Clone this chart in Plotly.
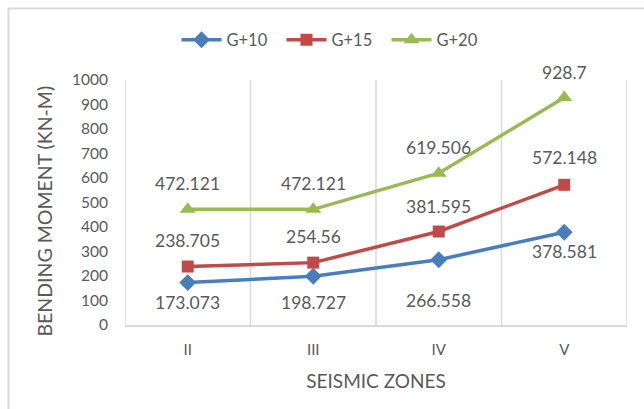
import plotly.graph_objects as go

# Seismic zones and bending moments (kN-m) per building height
zones = ["II", "III", "IV", "V"]
g10 = [173.073, 198.727, 266.558, 378.581]
g15 = [238.705, 254.56, 381.595, 572.148]
g20 = [472.121, 472.121, 619.506, 928.7]
y_ticks = [0, 100, 200, 300, 400, 500, 600, 700, 800, 900, 1000]

FONT = "Lato"
GREY = "#595959"

# Pixel layout of the plot area
W, H = 644, 409
L, R, T, B = 125, 17, 80, 84
pw, ph = W - L - R, H - T - B

series = [
    ("G+10", g10, "#4a7ebb", "diamond", 13, [-20, -26, -41, -19]),
    ("G+15", g15, "#be4b48", "square", 12, [26, 26, 25, 27]),
    ("G+20", g20, "#98b954", "triangle-up", 14, [26, 26, 26, 25]),
]

fig = go.Figure()
annotations = []
for name, vals, color, symbol, msize, shifts in series:
    fig.add_trace(go.Scatter(
        x=zones, y=vals, name=name, mode="lines+markers",
        line=dict(color=color, width=3.5),
        marker=dict(symbol=symbol, size=msize, color=color),
    ))
    for z, v, s in zip(zones, vals, shifts):
        annotations.append(dict(
            x=z, y=v, xref="x", yref="y", text=f"{v:g}", showarrow=False,
            yshift=s, font=dict(family=FONT, size=17.5, color=GREY),
        ))

# Y-axis title
annotations.append(dict(
    x=(30 - L) / pw, y=(H - B - 211) / ph, xref="paper", yref="paper",
    text="BENDING MOMENT (KN-M)", textangle=-90, showarrow=False,
    font=dict(family=FONT, size=19.5, color=GREY),
))

fig.update_layout(
    width=W, height=H,
    margin=dict(l=L, r=R, t=T, b=B),
    paper_bgcolor="white", plot_bgcolor="white",
    font=dict(family=FONT, color=GREY),
    showlegend=True,
    legend=dict(
        orientation="h", x=(334 - L) / pw, xanchor="center",
        y=1 + 40 / ph, yanchor="middle",
        font=dict(family=FONT, size=16.5, color=GREY),
        itemwidth=40, entrywidth=50, entrywidthmode="pixels",
    ),
    annotations=annotations,
    shapes=[dict(
        type="rect", xref="paper", yref="paper",
        x0=(8.5 - L) / pw, x1=(W + 20 - L) / pw,
        y0=(H - B - (H + 20)) / ph, y1=(H - B - 8.5) / ph,
        line=dict(color="#d9d9d9", width=2), layer="below",
    )],
)

fig.update_xaxes(
    type="category", range=[-0.5, 3.5],
    showgrid=False, showline=True, linecolor="#d9d9d9", linewidth=1.5,
    ticks="", ticklabelstandoff=10,
    tickfont=dict(family=FONT, size=15, color=GREY),
    title=dict(text="SEISMIC ZONES", font=dict(family=FONT, size=19, color=GREY), standoff=18),
)
fig.update_yaxes(
    range=[0, 1000], tickvals=y_ticks, showgrid=False, zeroline=False,
    showline=False, ticks="", ticklabelstandoff=16,
    tickfont=dict(family=FONT, size=15.5, color=GREY),
)

# Vertical gridlines at category boundaries
for b in [-0.5, 0.5, 1.5, 2.5, 3.5]:
    fig.add_shape(type="line", xref="x", yref="paper", x0=b, x1=b, y0=0, y1=1,
                  line=dict(color="#d9d9d9", width=1.5), layer="below")

fig.write_html("out.html")
